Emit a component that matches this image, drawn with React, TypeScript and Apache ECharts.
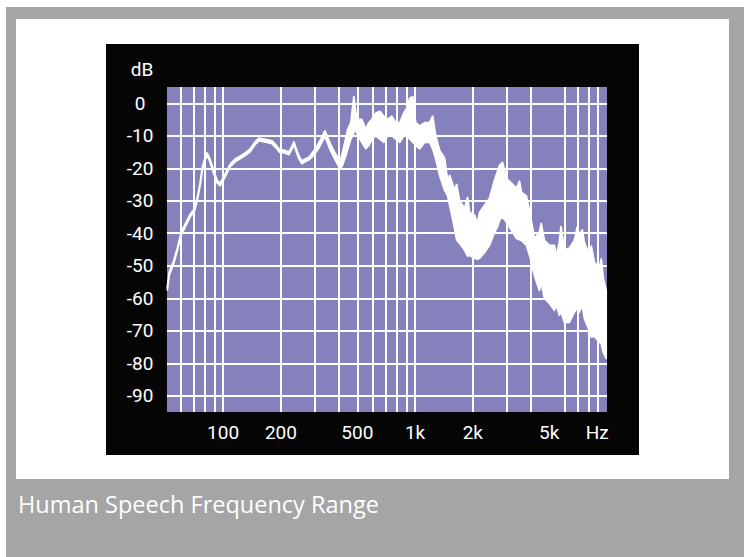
import React, { useEffect, useRef } from 'react';
import * as echarts from 'echarts';

// Frequency of each trace sample (Hz)
const freqHz = [
  51.2, 52.4, 55.0, 57.7, 60.5, 64.2, 67.4, 70.7, 73.3, 76.0,
  77.8, 80.6, 82.6, 84.6, 86.7, 89.8, 93.1, 96.5, 100.0, 103.7,
  108.8, 115.5, 122.6, 130.2, 138.2, 146.7, 153.9, 161.5, 171.4, 179.8,
  188.6, 197.9, 207.6, 220.4, 228.5, 234.0, 239.7, 248.5, 257.5, 266.9,
  280.0, 293.7, 308.2, 323.3, 339.1, 351.5, 364.4, 377.6, 391.4, 405.8,
  415.6, 430.8, 446.5, 462.9, 479.8, 491.4, 503.3, 528.1, 554.0, 574.2,
  595.2, 624.4, 655.0, 687.2, 720.8, 756.4, 793.4, 832.1, 872.9, 904.8,
  937.8, 972.1, 1007.6, 1057.3, 1122.5, 1191.7, 1235.2, 1280.4, 1343, 1426,
  1479, 1514, 1607, 1646, 1706, 1811, 1877, 1923, 2042, 2117,
  2168, 2301, 2443, 2594, 2689, 2754, 2855, 2994, 3179, 3375,
  3499, 3583, 3804, 3990, 4186, 4444, 4543, 4718, 5009, 5317,
  5440, 5646, 5756, 5994, 6364, 6757, 7008, 7174, 7438, 7617,
  8086, 8283, 8585, 9115, 9336, 9561, 9900,
];

// Upper edge of the trace (dB)
const upperDb = [
  -56.6, -52.0, -48.9, -44.6, -39.7, -36.6, -34.1, -32.6, -29.2, -24.3,
  -19.9, -16.6, -15.3, -16.6, -18.4, -21.2, -23.7, -24.6, -23.0, -21.2,
  -18.7, -17.2, -16.3, -15.3, -14.1, -11.9, -10.7, -11.0, -11.3, -11.6,
  -12.9, -14.4, -14.4, -15.0, -13.2, -11.9, -13.8, -16.3, -17.8, -17.2,
  -16.6, -15.0, -13.2, -11.0, -8.5, -10.7, -12.9, -14.7, -16.3, -18.4,
  -16, -12, -8, -6, 2, -3, -5, -5, -8, -6,
  -5, -3, -2.5, -4, -5, -4, -6, -6, -3, -1.5,
  1.5, 2, -6, -7, -6, -6, -4, -10, -14.5, -16.9,
  -24, -22.2, -26.8, -25, -30.0, -32.3, -29, -33.6, -34.5, -37,
  -33.6, -31.4, -29.2, -23.7, -21, -19.1, -18.2, -23.1, -24.6, -26.2,
  -24, -27.4, -28.6, -34.5, -41.6, -39.7, -37, -42.2, -43.7, -43.7,
  -47, -42.8, -38, -45.2, -44.6, -42.2, -38, -40.6, -39, -42.8,
  -46.8, -44, -48.9, -50.8, -48, -53.9, -57.6,
];

// Lower edge of the trace (dB)
const lowerDb = [
  -57.4, -52.8, -49.7, -45.4, -40.5, -37.4, -34.9, -33.4, -30.0, -25.1,
  -20.7, -17.4, -16.1, -17.4, -19.2, -22.0, -24.5, -25.4, -23.8, -22.0,
  -19.5, -18.0, -17.1, -16.1, -14.9, -12.7, -11.5, -11.8, -12.1, -12.4,
  -13.7, -15.2, -15.2, -15.8, -14.0, -12.7, -14.6, -17.1, -18.6, -18.0,
  -17.4, -16.2, -14.6, -12.6, -10.2, -12.5, -14.8, -16.6, -18.3, -20.0,
  -19.5, -17, -14, -11, -9, -8, -10, -12, -14, -13,
  -11, -10, -11, -12, -10, -10, -11, -12, -10, -10,
  -11, -12, -13, -14, -12, -12, -14, -17, -22.2, -26.8,
  -28.5, -31.4, -38.5, -42, -43.1, -45.2, -47, -46.8, -47.7, -48,
  -47.7, -45.9, -43.7, -39.7, -38, -36.0, -35, -36.6, -39.1, -41.6,
  -42, -42.2, -43.7, -47.7, -52.9, -57.6, -55, -60.0, -61.6, -63.7,
  -62, -65.2, -64, -67.4, -67.4, -64.3, -63, -64.3, -62, -66.2,
  -69.9, -72, -71.7, -73.5, -74, -76.6, -78.5,
];

const gridFreqs = [60, 70, 80, 90, 100, 200, 300, 400, 500, 600, 700, 800, 900, 1000, 2000, 3000, 4000, 6000, 7000, 8000, 9000];
const freqLabelValues = [100, 200, 500, 1000, 2000, 5000, 8900];
const freqLabelText = ['100', '200', '500', '1k', '2k', '5k', 'Hz'];
const dbTicks = [0, -10, -20, -30, -40, -50, -60, -70, -80, -90];

const FONT = 'Roboto, "DejaVu Sans", sans-serif';
const CAPTION_FONT = '"Open Sans", Roboto, sans-serif';

export default function App() {
  const ref = useRef<HTMLDivElement>(null);
  useEffect(() => {
    if (!ref.current) return;
    const chart = echarts.init(ref.current, null, { renderer: 'svg' });
    const labelFor = (v: number) => {
      let best = 0;
      let bestD = Infinity;
      freqLabelValues.forEach((lv, i) => {
        const d = Math.abs(Math.log10(v) - Math.log10(lv));
        if (d < bestD) { bestD = d; best = i; }
      });
      return freqLabelText[best];
    };
    chart.setOption({
      animation: false,
      backgroundColor: 'transparent',
      title: {
        text: 'Human Speech Frequency Range',
        left: 13,
        top: 487,
        textStyle: { color: '#ffffff', fontSize: 23.5, fontWeight: 'normal', fontFamily: CAPTION_FONT },
      },
      graphic: [
        {
          type: 'text',
          x: 142,
          y: 69,
          style: {
            text: 'dB',
            fill: '#ffffff',
            font: `19px ${FONT}`,
            textAlign: 'center',
            textVerticalAlign: 'middle',
          },
        },
      ],
      grid: {
        left: 167,
        top: 87,
        width: 440,
        height: 325,
        show: true,
        backgroundColor: '#8581bd',
        borderWidth: 0,
      },
      xAxis: {
        type: 'log',
        logBase: 10,
        min: 51,
        max: 10000,
        axisLine: { show: false },
        axisTick: { show: false, customValues: gridFreqs },
        splitLine: { show: true, lineStyle: { color: '#ffffff', width: 2 } },
        axisLabel: {
          customValues: freqLabelValues,
          formatter: (v: number) => labelFor(v),
          color: '#ffffff',
          fontSize: 19,
          fontFamily: FONT,
          margin: 11,
        },
      },
      yAxis: {
        type: 'value',
        min: -95,
        max: 5,
        axisLine: { show: false },
        axisTick: { show: false, customValues: dbTicks },
        splitLine: { show: true, lineStyle: { color: '#ffffff', width: 2 } },
        axisLabel: {
          customValues: dbTicks,
          color: '#ffffff',
          fontSize: 19,
          fontFamily: FONT,
          align: 'center',
          margin: 27,
        },
      },
      series: [
        {
          name: 'spectrum',
          type: 'custom',
          coordinateSystem: 'cartesian2d',
          encode: { x: 0, y: [1, 2] },
          data: freqHz.map((f, i) => [f, upperDb[i], lowerDb[i]]),
          renderItem: (params: any, api: any) => {
            if (params.dataIndex !== 0) return null;
            const pts: number[][] = [];
            for (let i = 0; i < freqHz.length; i++) pts.push(api.coord([freqHz[i], upperDb[i]]));
            for (let i = freqHz.length - 1; i >= 0; i--) pts.push(api.coord([freqHz[i], lowerDb[i]]));
            return {
              type: 'polygon',
              shape: { points: pts },
              style: { fill: '#ffffff', stroke: '#ffffff', lineWidth: 1.8, lineJoin: 'round' },
            };
          },
          z: 5,
        },
      ],
    });
    return () => chart.dispose();
  }, []);
  return (
    <div style={{ position: 'absolute', left: 0, top: 0, width: 747, height: 557, background: '#ffffff', overflow: 'hidden' }}>
      <div style={{ position: 'absolute', left: 6, top: 7, width: 738, height: 550, background: '#a5a5a5' }} />
      <div style={{ position: 'absolute', left: 16, top: 19, width: 713, height: 460, background: '#ffffff' }} />
      <div style={{ position: 'absolute', left: 106, top: 44, width: 533, height: 411, background: '#050505' }} />
      <div ref={ref} style={{ position: 'absolute', left: 0, top: 0, width: 747, height: 557 }} />
    </div>
  );
}
